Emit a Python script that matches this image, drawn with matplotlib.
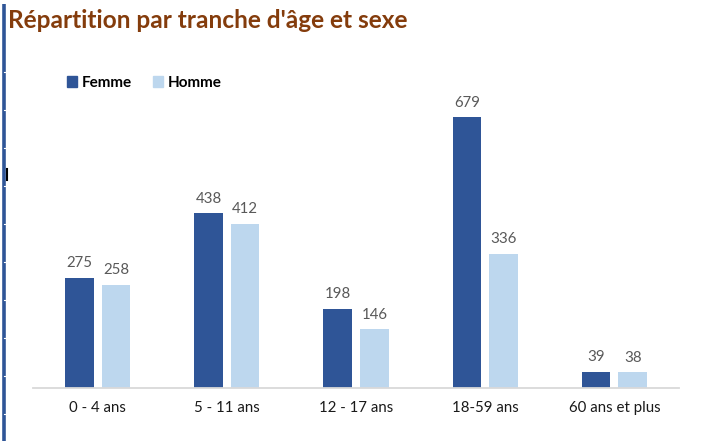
import numpy as np
import matplotlib
matplotlib.use('Agg')
import matplotlib.pyplot as plt
from matplotlib.patches import Patch

# data
categories = ['0 - 4 ans', '5 - 11 ans', '12 - 17 ans', '18-59 ans', '60 ans et plus']
femme = [275, 438, 198, 679, 39]
homme = [258, 412, 146, 336, 38]

FEMME_COLOR = '#2F5597'
HOMME_COLOR = '#BDD7EE'
TITLE_COLOR = '#843C0C'

plt.rcParams['font.family'] = ['Lato', 'DejaVu Sans']

W, H = 701, 445
fig = plt.figure(figsize=(W / 100, H / 100), dpi=100)

# main axes
x0, x1 = 33, 679
base_y = 387.5
ax = fig.add_axes([x0 / W, (H - base_y) / H, (x1 - x0) / W, 318.4 / H])

x = np.arange(len(categories))
bw = 0.222
off = (bw + 0.062) / 2
b1 = ax.bar(x - off, femme, bw, color=FEMME_COLOR, label='Femme')
b2 = ax.bar(x + off, homme, bw, color=HOMME_COLOR, label='Homme')

for bars, vals in [(b1, femme), (b2, homme)]:
    for rect, v in zip(bars, vals):
        ax.annotate(str(v), (rect.get_x() + rect.get_width() / 2, v),
                    xytext=(0, 5.5), textcoords='offset points',
                    ha='center', va='bottom', fontsize=10.8, color='#595959')

ax.set_xlim(-0.5, len(categories) - 0.5)
ax.set_ylim(0, 800)
ax.set_xticks(x)
ax.set_xticklabels(categories, fontsize=10.8, color='#1a1a1a')
ax.tick_params(axis='x', length=0, pad=10)
ax.set_yticks([])
for s in ['top', 'left', 'right']:
    ax.spines[s].set_visible(False)
ax.spines['bottom'].set_color('#D9D9D9')
ax.spines['bottom'].set_linewidth(1.3)

# legend
handles = [Patch(color=FEMME_COLOR, label='Femme'), Patch(color=HOMME_COLOR, label='Homme')]
fig.legend(handles=handles, loc='center left', bbox_to_anchor=(67 / W, 1 - 83 / H),
           ncol=2, frameon=False, handlelength=0.68, handleheight=0.68,
           handletextpad=0.3, columnspacing=1.35, borderpad=0, borderaxespad=0,
           prop={'weight': 'bold', 'size': 11})

# title
fig.text(8 / W, 1 - 20 / H, "Répartition par tranche d'âge et sexe", fontsize=17.6,
         fontweight='bold', color=TITLE_COLOR, ha='left', va='center')

# left border strip with small white ticks (page decoration)
deco = fig.add_axes([0, 0, 1, 1], zorder=-1)
deco.set_xlim(0, W)
deco.set_ylim(H, 0)
deco.axis('off')
deco.plot([3.5, 3.5], [4, 441], color=FEMME_COLOR, lw=2.6, solid_capstyle='butt')
for ty in [72, 110, 148, 186, 224, 262, 300, 338, 376, 414]:
    deco.plot([4, 5.5], [ty, ty], color='white', lw=0.8)
deco.plot([7, 7], [169, 180], color='black', lw=1.5)

fig.savefig('out.png', dpi=100)
